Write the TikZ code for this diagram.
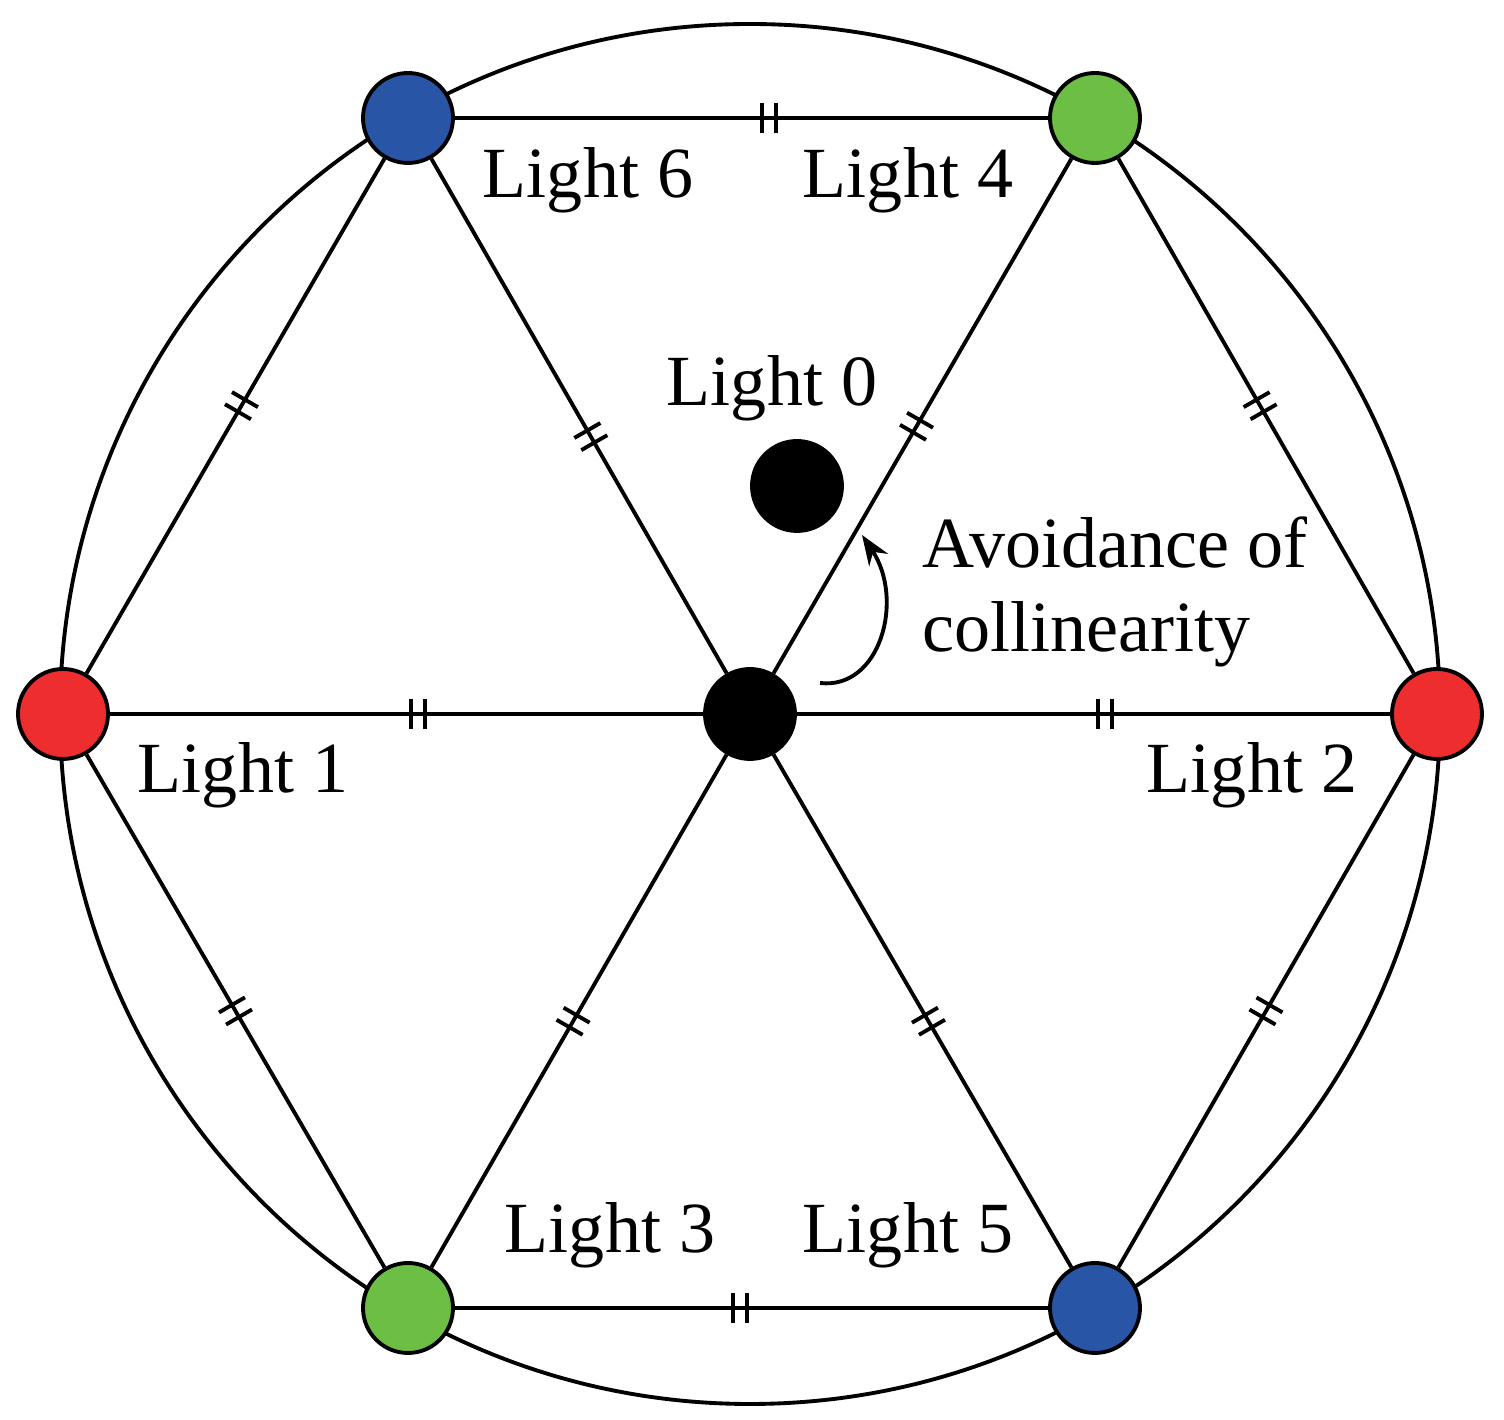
\documentclass[tikz,border=0pt]{standalone}
\usepackage{fontspec}
\setmainfont{Liberation Serif}
\usetikzlibrary{arrows.meta,decorations.markings}

\definecolor{lred}{HTML}{EE2E2E}
\definecolor{lblue}{HTML}{2855A6}
\definecolor{lgreen}{HTML}{6DBE45}

\tikzset{
  light/.style={circle, draw, line width=1.1pt, minimum size=9mm, inner sep=0pt},
  edge/.style={line width=1.1pt},
  tick/.style={edge, postaction={decorate, decoration={markings,
    mark=at position #1 with {\draw[line width=1.1pt] (-0.7mm,-1.5mm) -- (-0.7mm,1.5mm);
                              \draw[line width=1.1pt] (0.7mm,-1.5mm) -- (0.7mm,1.5mm);}}}},
  tick/.default=0.52,
  lbl/.style={font=\fontsize{20.5}{24}\selectfont}
}

\begin{document}
\begin{tikzpicture}[x=0.1mm,y=-0.1mm]
\useasboundingbox (0,0) rectangle (1504,1420);

\draw[edge] (750,714) circle (690);

\node[light, fill=lred]   (l1) at (63,714) {};
\node[light, fill=lred]   (l2) at (1437,714) {};
\node[light, fill=lblue]  (l6) at (408,118) {};
\node[light, fill=lgreen] (l4) at (1095,118) {};
\node[light, fill=lgreen] (l3) at (408,1308) {};
\node[light, fill=lblue]  (l5) at (1095,1308) {};
\node[light, fill=black]  (c)  at (750,714) {};
\node[light, fill=black]  (l0) at (797,486) {};

% hexagon
\draw[tick=0.53] (l6) -- (l4);
\draw[tick=0.52] (l2) -- (l4);
\draw[tick=0.50] (l5) -- (l2);
\draw[tick=0.48] (l3) -- (l5);
\draw[tick=0.50] (l1) -- (l3);
\draw[tick=0.48] (l6) -- (l1);

% spokes
\draw[tick=0.52] (l1) -- (c);
\draw[tick=0.52] (c) -- (l2);
\draw[tick=0.46] (c) -- (l6);
\draw[tick=0.48] (c) -- (l4);
\draw[tick=0.52] (c) -- (l3);
\draw[tick=0.52] (c) -- (l5);

\node[lbl] at (588,180) {Light 6};
\node[lbl] at (908,180) {Light 4};
\node[lbl] at (772,388) {Light 0};
\node[lbl] at (243,775) {Light 1};
\node[lbl] at (1252,775) {Light 2};
\node[lbl] at (610,1235) {Light 3};
\node[lbl] at (908,1235) {Light 5};
\node[lbl, anchor=west, align=left] (avoid) at (910,592) {Avoidance of\\collinearity};

\coordinate (as) at (820,683);
\coordinate (ae) at (862,535);
\draw[edge, -{Stealth[length=3mm]}] (as) .. controls (880,690) and (905,600) .. (ae);
\end{tikzpicture}
\end{document}
